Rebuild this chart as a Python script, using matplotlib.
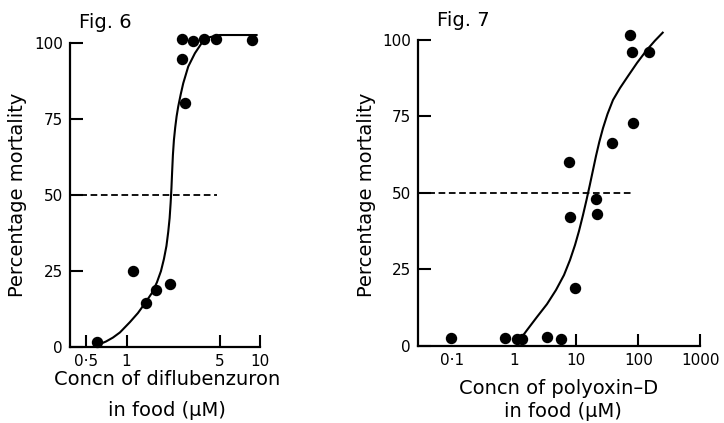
import matplotlib
matplotlib.use("Agg")
import matplotlib.pyplot as plt
from matplotlib.ticker import NullLocator

# Fig. 6 - diflubenzuron
fig6_conc = [0.60, 1.12, 1.39, 1.66, 2.12, 2.59, 2.74, 2.61, 3.13, 3.81, 4.69, 8.78]
fig6_mort = [1.6, 25.0, 14.5, 18.7, 20.6, 94.7, 80.2, 101.3, 100.7, 101.3, 101.3, 101.0]
# hand-drawn fitted curve
fig6_curve_conc = [0.61, 0.70, 0.79, 0.892, 1.06, 1.218, 1.374, 1.551, 1.691, 1.813,
                   1.909, 1.994, 2.056, 2.107, 2.144, 2.174, 2.20, 2.23, 2.269,
                   2.321, 2.377, 2.444, 2.548, 2.666, 2.906, 3.263, 3.663, 4.227,
                   5.025, 9.48]
fig6_curve_mort = [0.6, 1.7, 3.0, 4.7, 8.1, 11.1, 14.3, 17.7, 21.2, 24.9,
                   28.9, 33.2, 37.8, 42.4, 47.4, 52.3, 57.6, 63.2, 68.1,
                   72.3, 75.9, 79.1, 83.0, 86.8, 92.3, 96.7, 100.0, 102.0,
                   102.7, 102.7]
fig6_ld50_end = 4.77
fig6_xticks = [0.5, 1, 5, 10]
fig6_xticklabels = ["0·5", "1", "5", "10"]

# Fig. 7 - polyoxin-D
fig7_conc = [0.095, 0.71, 1.11, 1.33, 3.34, 5.57, 7.72, 7.92, 9.53, 20.8, 21.8,
             37.2, 73.4, 78.2, 81.2, 150]
fig7_mort = [2.5, 2.5, 2.2, 2.2, 2.8, 2.2, 60.0, 42.1, 18.9, 48.0, 43.0,
             66.3, 101.6, 96.2, 72.8, 96.2]
fig7_curve_conc = [1.238, 1.606, 2.327, 3.375, 4.711, 6.341, 7.92, 9.54, 11.07,
                   12.83, 14.61, 16.52, 18.60, 20.79, 23.50, 26.96, 31.86, 39.07,
                   50.67, 68.2, 95.2, 136.5, 185.8, 247.2]
fig7_curve_mort = [2.1, 5.2, 9.5, 13.7, 18.3, 23.2, 28.1, 33.0, 37.6,
                   42.8, 47.7, 52.6, 57.5, 62.1, 66.7, 71.2, 75.8, 80.4,
                   84.3, 88.2, 92.5, 96.7, 99.8, 102.4]
fig7_ld50_end = 80
fig7_xticks = [0.1, 1, 10, 100, 1000]
fig7_xticklabels = ["0·1", "1", "10", "100", "1000"]

yticks = [0, 25, 50, 75, 100]

W, H = 724, 423


def px_axes(left, top, right, bottom):
    return [left / W, 1 - bottom / H, (right - left) / W, (bottom - top) / H]


fig = plt.figure(figsize=(W / 100, H / 100), dpi=100)
fig.patch.set_facecolor("white")


def style(ax, xmin, xmax, ytop, xend, xticks, xticklabels):
    ax.set_xscale("log")
    ax.set_xlim(xmin, xmax)
    ax.set_ylim(0, ytop)
    for s in ["top", "right"]:
        ax.spines[s].set_visible(False)
    ax.spines["left"].set_bounds(0, 100)
    ax.spines["bottom"].set_bounds(xmin, xend)
    for s in ["left", "bottom"]:
        ax.spines[s].set_linewidth(1.6)
    ax.set_yticks(yticks)
    ax.set_xticks(xticks)
    ax.set_xticklabels(xticklabels)
    ax.xaxis.set_minor_locator(NullLocator())
    ax.tick_params(direction="in", length=9, width=1.5, labelsize=11, pad=5)
    ax.patch.set_alpha(0)


ax1 = fig.add_axes(px_axes(70, 25, 290, 346.7))
style(ax1, 0.376, 16.9, 106, 10, fig6_xticks, fig6_xticklabels)
ax1.plot(fig6_curve_conc, fig6_curve_mort, color="black", lw=1.5,
         solid_joinstyle="round", clip_on=False)
ax1.plot([0.376, fig6_ld50_end], [50, 50], color="black", lw=1.3,
         dashes=(3.7, 2), clip_on=False)
ax1.plot(fig6_conc, fig6_mort, "o", color="black", ms=7.2, clip_on=False)

ax2 = fig.add_axes(px_axes(418, 25, 715, 346))
style(ax2, 0.0281, 1722, 104.9, 1000, fig7_xticks, fig7_xticklabels)
for t in ax2.xaxis.get_major_ticks()[:2]:
    t.tick1line.set_visible(False)
ax2.plot(fig7_curve_conc, fig7_curve_mort, color="black", lw=1.5,
         solid_joinstyle="round", clip_on=False)
ax2.plot([0.0281, fig7_ld50_end], [50, 50], color="black", lw=1.3,
         dashes=(3.7, 2), clip_on=False)
ax2.plot(fig7_conc, fig7_mort, "o", color="black", ms=7.2, clip_on=False)

# titles and axis labels
fig.text(79 / W, 1 - 22 / H, "Fig. 6", fontsize=14, va="center", ha="left")
fig.text(437 / W, 1 - 21 / H, "Fig. 7", fontsize=14, va="center", ha="left")

fig.text(17.5 / W, 1 - 195 / H, "Percentage mortality", fontsize=14,
         rotation=90, va="center", ha="center")
fig.text(366 / W, 1 - 195 / H, "Percentage mortality", fontsize=14,
         rotation=90, va="center", ha="center")

fig.text(167 / W, 1 - 379 / H, "Concn of diflubenzuron", fontsize=14,
         va="center", ha="center")
fig.text(167 / W, 1 - 410 / H, "in food (μM)", fontsize=14,
         va="center", ha="center")
fig.text(559 / W, 1 - 388 / H, "Concn of polyoxin–D", fontsize=14,
         va="center", ha="center")
fig.text(563 / W, 1 - 411 / H, "in food (μM)", fontsize=14,
         va="center", ha="center")

fig.savefig("out.png", dpi=100)
